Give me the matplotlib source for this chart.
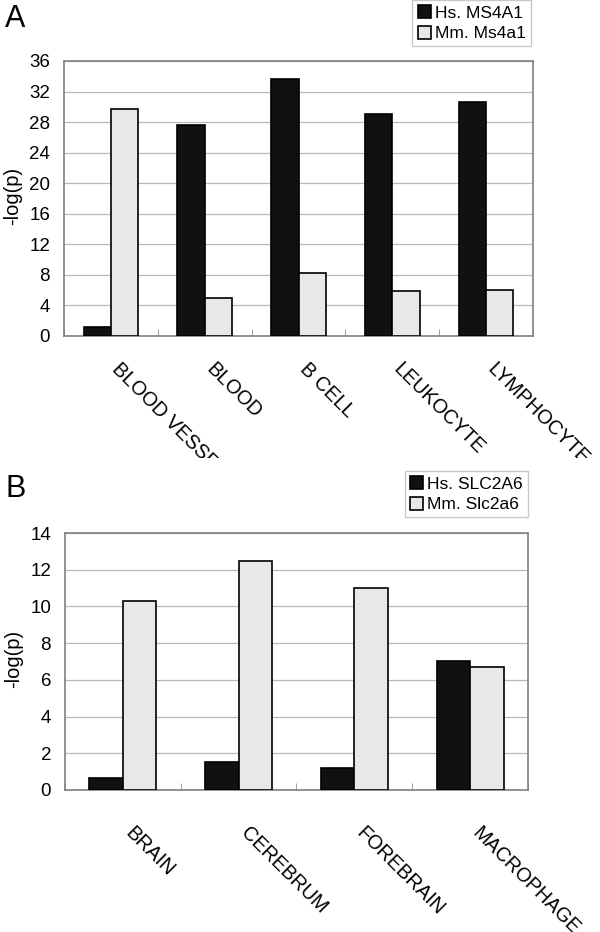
import numpy as np
import matplotlib.pyplot as plt
from matplotlib.transforms import ScaledTranslation, Bbox, TransformedBbox

plt.rcParams['font.family'] = ['Liberation Sans', 'DejaVu Sans']

# Panel A data
cats_a = ['BLOOD VESSEL', 'BLOOD', 'B CELL', 'LEUKOCYTE', 'LYMPHOCYTE']
hs_a = [1.2, 27.6, 33.6, 29.0, 30.6]
mm_a = [29.7, 5.0, 8.3, 5.9, 6.0]
labels_a = ['Hs. MS4A1', 'Mm. Ms4a1']
yticks_a = [0, 4, 8, 12, 16, 20, 24, 28, 32, 36]

# Panel B data
cats_b = ['BRAIN', 'CEREBRUM', 'FOREBRAIN', 'MACROPHAGE']
hs_b = [0.65, 1.55, 1.2, 7.05]
mm_b = [10.3, 12.5, 11.0, 6.7]
labels_b = ['Hs. SLC2A6', 'Mm. Slc2a6']
yticks_b = [0, 2, 4, 6, 8, 10, 12, 14]

W, H = 600, 932
fig = plt.figure(figsize=(W / 100, H / 100), dpi=100)


def px_axes(left, top, right, bottom):
    return fig.add_axes([left / W, 1 - bottom / H, (right - left) / W, (bottom - top) / H])


def draw_panel(ax, cats, hs, mm, labels, yticks, xpad, xshift, leg_anchor, letter, letter_y):
    x = np.arange(len(cats))
    bw = 0.29
    b1 = ax.bar(x - bw / 2, hs, bw, color='#111111', edgecolor='black', linewidth=1.2, zorder=3)
    b2 = ax.bar(x + bw / 2, mm, bw, color='#e8e8e8', edgecolor='black', linewidth=1.2, zorder=3)
    ax.set_xlim(-0.5, len(cats) - 0.5)
    ax.set_ylim(yticks[0], yticks[-1])
    ax.set_yticks(yticks)
    ax.yaxis.grid(True, color='#b8b8b8', linewidth=0.9, zorder=0)
    ax.tick_params(axis='y', length=0, labelsize=13.5, pad=10)
    ax.set_xticks(x)
    ax.set_xticks(np.arange(len(cats) + 1) - 0.5, minor=True)
    ax.tick_params(axis='x', which='minor', direction='in', length=5, color='#909090')
    ax.tick_params(axis='x', which='major', length=0, pad=xpad)
    ax.set_xticklabels(cats, rotation=-45, ha='left', va='top',
                       rotation_mode='anchor', fontsize=14.3)
    off = ScaledTranslation(xshift, 0, fig.dpi_scale_trans)
    for lab in ax.get_xticklabels():
        lab.set_transform(lab.get_transform() + off)
    for s in ax.spines.values():
        s.set_color('#808080')
        s.set_linewidth(1.2)
    ax.set_ylabel('-log(p)', fontsize=14.5)
    ax.yaxis.set_label_coords(-0.09, 0.51)
    fig.legend([b1, b2], labels, loc='upper right', bbox_to_anchor=leg_anchor,
               fontsize=12.5, fancybox=False, edgecolor='#c8c8c8', framealpha=1,
               handlelength=0.75, handleheight=0.75, handletextpad=0.25,
               labelspacing=0.3, borderpad=0.3, borderaxespad=0)
    fig.text(5 / W, 1 - letter_y / H, letter, fontsize=22, va='center', ha='left')


ax_a = px_axes(64, 61, 533, 336)
draw_panel(ax_a, cats_a, hs_a, mm_a, labels_a, yticks_a, 17, 0.11,
           (531 / W, 1.0), 'A', 19)

ax_b = px_axes(65, 533, 528, 790)
draw_panel(ax_b, cats_b, hs_b, mm_b, labels_b, yticks_b, 24, 0.12,
           (528 / W, 1 - 471 / H), 'B', 489)

# the category labels of panel A are cut off by panel B in the original
clip = TransformedBbox(Bbox([[0, (H - 458) / 100], [W / 100, H / 100]]), fig.dpi_scale_trans)
for lab in ax_a.get_xticklabels():
    lab.set_clip_on(True)
    lab.set_clip_box(clip)

fig.savefig('out.png', dpi=100, facecolor='white')
